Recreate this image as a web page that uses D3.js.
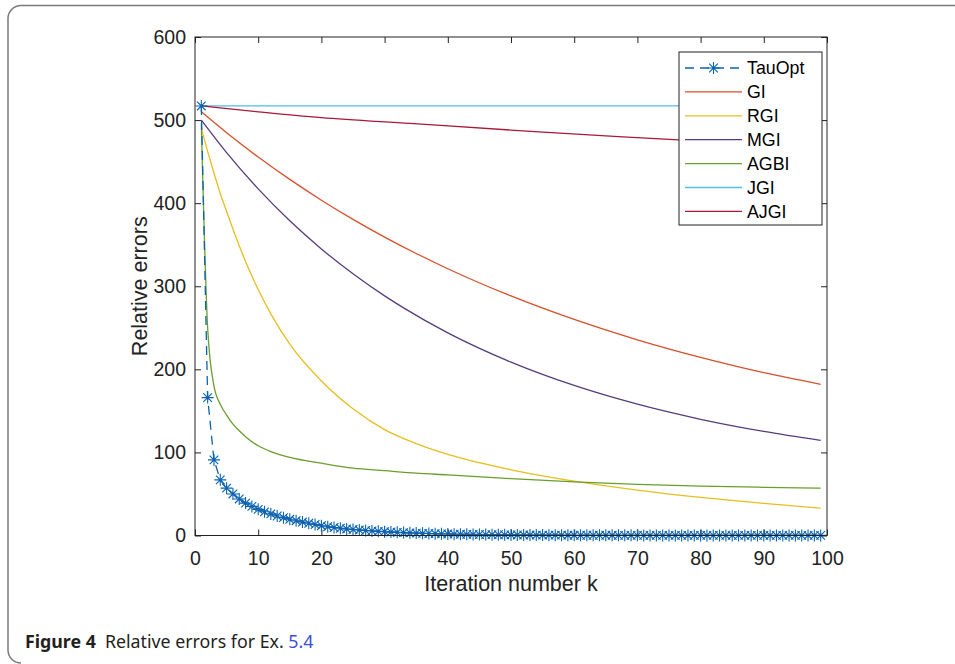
<!DOCTYPE html>
<html>
<head>
<meta charset="utf-8">
<script src="https://cdn.jsdelivr.net/npm/d3@7/dist/d3.min.js"></script>
<style>
  html, body { margin: 0; padding: 0; background: #fff; }
  svg { display: block; }
</style>
</head>
<body>
<svg id="chart" width="955" height="664"></svg>
<script>
// Iteration numbers and relative errors for each method
const tauOptK = [
  1,2,3,4,5,6,7,8,9,10,11,12,13,14,15,16,17,18,19,20,
  21,22,23,24,25,26,27,28,29,30,31,32,33,34,35,36,37,38,39,40,
  41,42,43,44,45,46,47,48,49,50,51,52,53,54,55,56,57,58,59,60,
  61,62,63,64,65,66,67,68,69,70,71,72,73,74,75,76,77,78,79,80,
  81,82,83,84,85,86,87,88,89,90,91,92,93,94,95,96,97,98,99
];
const tauOptErr = [
  517,166,91,67,57,50,44,39,35,31.5,28.5,26,23.5,21.5,19.5,17.8,16.2,14.7,13.2,11.8,
  10.6,9.6,8.7,7.9,7.2,6.6,6.0,5.5,5.0,4.6,4.2,3.8,3.5,3.2,2.9,2.6,2.4,2.2,2.0,1.8,
  1.6,1.5,1.4,1.3,1.2,1.1,1.0,0.9,0.8,0.7,0.65,0.6,0.55,0.5,0.5,0.45,0.4,0.4,0.35,0.35,
  0.3,0.3,0.3,0.25,0.25,0.25,0.2,0.2,0.2,0.2,0.15,0.15,0.15,0.15,0.15,0.1,0.1,0.1,0.1,0.1,
  0.1,0.1,0.1,0.1,0.1,0.1,0.1,0.1,0.1,0.1,0.1,0.1,0.1,0.1,0.1,0.1,0.1,0.1,0.1
];

const giK   = [1,5,10,15,20,25,30,35,40,50,60,70,80,90,99];
const giErr = [510,484.8,455.6,428.6,403.6,380.5,359.2,339.4,321.1,288.3,260.0,235.5,214.3,195.9,182];

const rgiK   = [1,2,3,4,5,6,7,8,10,12,15,20,25,30,35,40,50,60,70,80,90,99];
const rgiErr = [490,462.4,436.3,411.7,390,368.8,348.7,329.8,296,266.8,230.3,186,152.5,127.4,110.6,97.6,79.1,65.4,54.6,45.8,38.6,33];

const mgiK   = [1,5,10,15,20,25,30,33,40,50,60,67,70,80,90,99];
const mgiErr = [500,460.8,417.2,378.8,344.9,315.0,288.4,274.0,243.9,208.7,180.6,164.3,158.0,139.9,125.3,114.5];

const agbiK   = [1,2,3,4,5,6,7,8,10,12,15,20,25,30,35,40,50,60,70,80,90,99];
const agbiErr = [496,250,180,158,145,134,126,119,108,101,94,87,81,78,75,73,68.5,64.5,61.5,59.5,58,57];

const jgiK   = [1,50,99];
const jgiErr = [517,517,517];

const ajgiK   = [1,10,20,34,50,67,78,99];
const ajgiErr = [517,510,503,496,488,480,475.5,468.5];

const xTicks = [0,10,20,30,40,50,60,70,80,90,100];
const yTicks = [0,100,200,300,400,500,600];

const seriesNames = ["TauOpt","GI","RGI","MGI","AGBI","JGI","AJGI"];
const seriesColors = ["#0a62b0","#d8502a","#e8be1e","#553d7d","#6a9e2c","#4dbeee","#a8183a"];

const lineSeries = [
  { name: "GI",   k: giK,   v: giErr,   color: seriesColors[1] },
  { name: "RGI",  k: rgiK,  v: rgiErr,  color: seriesColors[2] },
  { name: "MGI",  k: mgiK,  v: mgiErr,  color: seriesColors[3] },
  { name: "AGBI", k: agbiK, v: agbiErr, color: seriesColors[4] },
  { name: "JGI",  k: jgiK,  v: jgiErr,  color: seriesColors[5] },
  { name: "AJGI", k: ajgiK, v: ajgiErr, color: seriesColors[6] }
];

const svg = d3.select("#chart");
const font = "'Liberation Sans', Arial, Helvetica, sans-serif";
const axisColor = "#222";

// page frame with a rounded corner at the left
svg.append("path")
  .attr("d", "M955,5.5 H21 A13,13 0 0 0 8,18.5 V650 A13,13 0 0 0 21,663")
  .attr("fill", "none")
  .attr("stroke", "#7a7a7a")
  .attr("stroke-width", 1.5);

const plot = { left: 195, right: 827, top: 37, bottom: 535.5 };
const x = d3.scaleLinear().domain([0, 100]).range([plot.left, plot.right]);
const y = d3.scaleLinear().domain([0, 600]).range([plot.bottom, plot.top]);

// axes with inward ticks on all four sides
function styleAxis(g) {
  g.select(".domain").remove();
  g.selectAll(".tick line").attr("stroke", axisColor).attr("stroke-width", 1);
  g.selectAll(".tick text").attr("fill", axisColor).style("font-family", font).style("font-size", "19.5px");
}
svg.append("g").attr("transform", `translate(0,${plot.bottom})`)
  .call(d3.axisBottom(x).tickValues(xTicks).tickSizeInner(-6).tickSizeOuter(0).tickPadding(16))
  .call(styleAxis);
svg.append("g").attr("transform", `translate(0,${plot.top})`)
  .call(d3.axisTop(x).tickValues(xTicks).tickSizeInner(-6).tickSizeOuter(0).tickFormat(""))
  .call(styleAxis);
svg.append("g").attr("transform", `translate(${plot.left},0)`)
  .call(d3.axisLeft(y).tickValues(yTicks).tickSizeInner(-6).tickSizeOuter(0).tickPadding(9))
  .call(styleAxis);
svg.append("g").attr("transform", `translate(${plot.right},0)`)
  .call(d3.axisRight(y).tickValues(yTicks).tickSizeInner(-6).tickSizeOuter(0).tickFormat(""))
  .call(styleAxis);

// data lines
const line = d3.line().x(d => x(d[0])).y(d => y(d[1])).curve(d3.curveMonotoneX);
const lines = svg.append("g");
lineSeries.forEach(s => {
  lines.append("path")
    .datum(s.k.map((k, i) => [k, s.v[i]]))
    .attr("d", line)
    .attr("fill", "none")
    .attr("stroke", s.color)
    .attr("stroke-width", 1.3);
});

// TauOpt: dashed line with asterisk markers
const tauData = tauOptK.map((k, i) => [k, tauOptErr[i]]);
const straight = d3.line().x(d => x(d[0])).y(d => y(d[1]));
svg.append("path")
  .datum(tauData)
  .attr("d", straight)
  .attr("fill", "none")
  .attr("stroke", seriesColors[0])
  .attr("stroke-width", 1.3)
  .attr("stroke-dasharray", "9,6");

const star = "M-6,0H6M0,-6V6M-4.3,-4.3L4.3,4.3M-4.3,4.3L4.3,-4.3";
svg.append("g").selectAll("path")
  .data(tauData)
  .join("path")
  .attr("transform", d => `translate(${x(d[0])},${y(d[1])})`)
  .attr("d", star)
  .attr("fill", "none")
  .attr("stroke", seriesColors[0])
  .attr("stroke-width", 1.1);

// plot box
svg.append("rect")
  .attr("x", plot.left).attr("y", plot.top)
  .attr("width", plot.right - plot.left).attr("height", plot.bottom - plot.top)
  .attr("fill", "none").attr("stroke", axisColor).attr("stroke-width", 1);

// axis titles
svg.append("text")
  .attr("x", (plot.left + plot.right) / 2).attr("y", 591)
  .attr("text-anchor", "middle")
  .style("font-family", font).style("font-size", "21.5px").attr("fill", axisColor)
  .text("Iteration number k");
svg.append("text")
  .attr("transform", `translate(147,${(plot.top + plot.bottom) / 2}) rotate(-90)`)
  .attr("text-anchor", "middle")
  .style("font-family", font).style("font-size", "21.5px").attr("fill", axisColor)
  .text("Relative errors");

// legend
const legend = svg.append("g");
legend.append("rect")
  .attr("x", 679).attr("y", 52).attr("width", 143).attr("height", 173)
  .attr("fill", "#fff").attr("stroke", axisColor).attr("stroke-width", 1);
seriesNames.forEach((name, i) => {
  const ly = 68 + i * 23.9;
  const ln = legend.append("line")
    .attr("x1", 685).attr("x2", 742).attr("y1", ly).attr("y2", ly)
    .attr("stroke", seriesColors[i]).attr("stroke-width", 1.3);
  if (i === 0) {
    ln.attr("stroke-dasharray", "9,6");
    legend.append("path")
      .attr("transform", `translate(713.5,${ly})`)
      .attr("d", star).attr("fill", "none")
      .attr("stroke", seriesColors[0]).attr("stroke-width", 1.1);
  }
  legend.append("text")
    .attr("x", 747).attr("y", ly).attr("dy", "0.35em")
    .style("font-family", font).style("font-size", "17.8px").attr("fill", "#000")
    .text(name);
});

// caption
const cap = svg.append("text")
  .attr("x", 25).attr("y", 648)
  .style("font-family", "'Noto Sans', 'Open Sans', sans-serif")
  .style("font-size", "17.8px").attr("fill", "#231f20");
cap.append("tspan").style("font-weight", "bold").text("Figure 4");
cap.append("tspan").attr("dx", 9).text("Relative errors for Ex. ");
cap.append("tspan").attr("fill", "#3c4fd6").text("5.4");
</script>
</body>
</html>
